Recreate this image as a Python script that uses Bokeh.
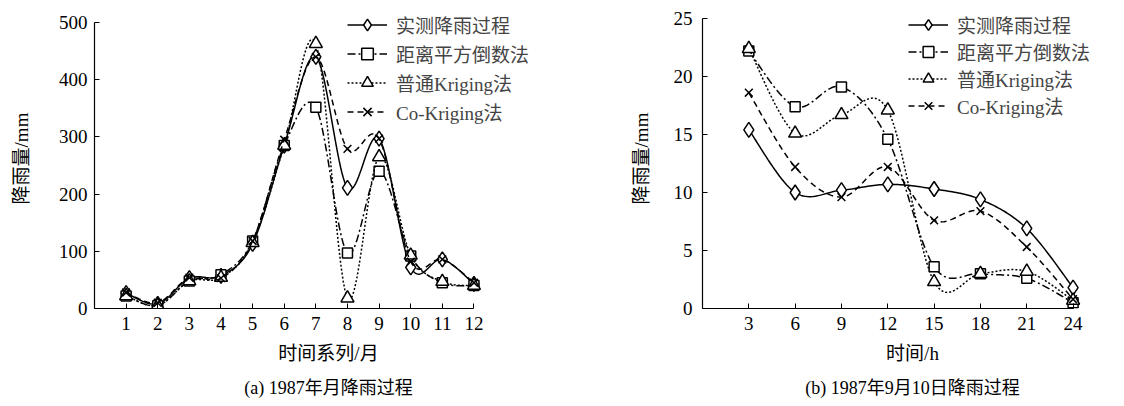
import numpy as np
from bokeh.plotting import figure
from bokeh.layouts import row
from bokeh.models import Range1d, FixedTicker, Legend, LegendItem, Title
from bokeh.embed import file_html
from bokeh.resources import INLINE

# ---------------- data ----------------
series_names = ["实测降雨过程", "距离平方倒数法", "普通Kriging法", "Co-Kriging法"]

months = [1, 2, 3, 4, 5, 6, 7, 8, 9, 10, 11, 12]
a_observed = [27, 8, 53, 57, 113, 285, 440, 211, 297, 72, 86, 43]
a_idw = [22, 5, 48, 59, 118, 285, 352, 97, 240, 92, 45, 40]
a_kriging = [22, 5, 48, 54, 115, 285, 463, 18, 265, 93, 47, 40]
a_cokriging = [28, 10, 54, 53, 118, 295, 440, 279, 297, 82, 86, 45]

hours = [3, 6, 9, 12, 15, 18, 21, 24]
b_observed = [15.4, 10.0, 10.2, 10.7, 10.3, 9.4, 6.9, 1.8]
b_idw = [22.2, 17.4, 19.1, 14.6, 3.6, 3.0, 2.6, 0.5]
b_kriging = [22.4, 15.1, 16.7, 17.1, 2.3, 3.0, 3.2, 0.7]
b_cokriging = [18.6, 12.2, 9.6, 12.2, 7.6, 8.4, 5.3, 0.8]

a_xticks = months
a_yticks = [0, 100, 200, 300, 400, 500]
b_xticks = hours
b_yticks = [0, 5, 10, 15, 20, 25]

FONT = "Liberation Serif, Noto Sans CJK SC"
styles = [
    dict(marker="diamond", size=15, dash="solid"),
    dict(marker="square", size=10, dash="8 3 2 3"),
    dict(marker="triangle", size=13, dash="2 2"),
    dict(marker="x", size=11, dash="6 4"),
]


def smooth(xs, ys, n=24):
    xs = np.asarray(xs, float)
    ys = np.asarray(ys, float)
    P = np.column_stack([xs, ys])
    m = len(P)
    out = [P[0]]
    t = np.linspace(0, 1, n)[1:]
    for i in range(m - 1):
        p0 = P[i - 1] if i > 0 else P[i]
        p1 = P[i]
        p2 = P[i + 1]
        p3 = P[i + 2] if i + 2 < m else P[i + 1]
        b1 = p1 + (p2 - p0) / 6.0
        b2 = p2 - (p3 - p1) / 6.0
        for tt in t:
            pt = ((1 - tt) ** 3) * p1 + 3 * ((1 - tt) ** 2) * tt * b1 + 3 * (1 - tt) * tt * tt * b2 + tt ** 3 * p2
            out.append(pt)
    out = np.array(out)
    return out[:, 0], out[:, 1]


def make_panel(x, series, xticks, yticks, xr, yr, xlabel, caption, width,
               border_left, legend_loc, row_h, ylab_standoff):
    p = figure(width=width, height=406, output_backend="svg", toolbar_location=None,
               x_range=Range1d(*xr), y_range=Range1d(*yr),
               min_border_left=border_left, min_border_right=0,
               min_border_top=8, min_border_bottom=98)
    p.grid.visible = False
    p.outline_line_color = None
    p.background_fill_color = "white"
    p.border_fill_color = "white"

    items = []
    for name, ys, st in zip(series_names, series, styles):
        sx, sy = smooth(x, ys)
        r1 = p.line(sx, sy, line_color="black", line_width=1.5, line_dash=st["dash"])
        r2 = p.scatter(x, ys, marker=st["marker"], size=st["size"], line_color="black",
                       fill_color="white", line_width=1.5)
        items.append(LegendItem(label=name, renderers=[r1, r2]))

    legend = Legend(items=items, location=legend_loc, orientation="vertical",
                    label_text_font=FONT, label_text_font_size="19px",
                    glyph_width=40, glyph_height=row_h, label_height=row_h,
                    label_standoff=9, spacing=0, padding=0, margin=0,
                    border_line_color=None, background_fill_alpha=0)
    p.add_layout(legend)

    for ax in (p.xaxis[0], p.yaxis[0]):
        ax.axis_line_color = "black"
        ax.axis_line_width = 1.2
        ax.major_tick_line_color = "black"
        ax.major_tick_in = 5
        ax.major_tick_out = 0
        ax.minor_tick_line_color = None
        ax.major_label_text_font = FONT
        ax.major_label_text_font_size = "19px"
        ax.major_label_text_color = "black"
        ax.axis_label_text_font = FONT
        ax.axis_label_text_font_size = "19px"
        ax.axis_label_text_font_style = "normal"
        ax.axis_label_text_color = "black"

    p.xaxis.ticker = FixedTicker(ticks=xticks)
    p.yaxis.ticker = FixedTicker(ticks=yticks)
    p.xaxis.bounds = (xr[0], xticks[-1])
    p.yaxis.bounds = (yr[0], yticks[-1])
    p.xaxis.axis_label = xlabel
    p.yaxis.axis_label = "降雨量/mm"
    p.xaxis.major_label_standoff = 8
    p.xaxis.axis_label_standoff = 10
    p.yaxis.major_label_standoff = 7
    p.yaxis.axis_label_standoff = ylab_standoff

    cap = Title(text=caption, align="center", text_font=FONT, text_font_size="18px",
                text_font_style="normal", text_color="black", standoff=18)
    p.add_layout(cap, "below")
    return p


p1 = make_panel(months, [a_observed, a_idw, a_kriging, a_cokriging], a_xticks, a_yticks,
                (0, 14.8), (0, 524.5), "时间系列/月", "(a) 1987年月降雨过程",
                562, 94, (253, 182), 29, 24)
p2 = make_panel(hours, [b_observed, b_idw, b_kriging, b_cokriging], b_xticks, b_yticks,
                (0, 27.2), (0, 25.86), "时间/h", "(b) 1987年9月10日降雨过程",
                560, 140, (206, 189), 27, 19)
p2.yaxis.major_label_standoff = 10

layout = row(p1, p2)
open("out.html", "w").write(file_html(layout, INLINE))
